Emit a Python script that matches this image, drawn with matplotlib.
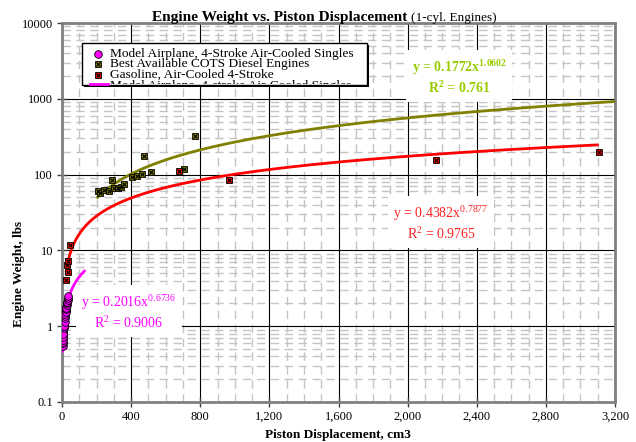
import numpy as np
import matplotlib
matplotlib.use("Agg")
import matplotlib.pyplot as plt
from matplotlib.ticker import FixedLocator, MultipleLocator, FixedFormatter, NullFormatter
from matplotlib.patches import Rectangle
from matplotlib.lines import Line2D

plt.rcParams['font.family'] = ['Liberation Serif', 'DejaVu Serif']
plt.rcParams['mathtext.fontset'] = 'custom'
plt.rcParams['mathtext.rm'] = 'Liberation Serif'
plt.rcParams['mathtext.it'] = 'Liberation Serif:italic'
plt.rcParams['mathtext.bf'] = 'Liberation Serif:bold'

# ---------------- data ----------------
model_x = [3.3, 4.0, 4.5, 5.0, 5.5, 6.0, 6.5, 7.0, 7.5, 8.0, 8.5, 9.0, 10, 10.5, 11, 12, 13, 14,
           15, 16, 17, 18, 19, 20, 21, 22, 24, 25, 26, 27, 28, 30, 32, 33, 35]
model_y = [0.55, 0.6, 0.62, 0.7, 0.65, 0.75, 0.8, 0.72, 0.85, 0.9, 0.8, 0.95, 1.0, 1.05, 1.1, 1.0,
           1.2, 1.25, 1.15, 1.3, 1.4, 1.35, 1.5, 1.45, 1.6, 1.55, 1.7, 1.8, 1.75, 1.9, 2.0, 2.1,
           2.2, 2.35, 2.5]

diesel_x = [210, 220, 245, 272, 287, 300, 322, 341, 360, 403, 432, 461, 474, 513, 706, 770]
diesel_y = [60, 58, 63, 60, 85, 66, 67, 69, 75, 94, 97, 101, 175, 107, 120, 320]

gas_x = [23, 27, 33, 37, 46, 677, 968, 2164, 3106]
gas_y = [4.1, 6.4, 7.3, 5.2, 11.8, 112, 85, 156, 200]

# power-law trendlines y = a * x^b  (coefficients as shown on chart)
model_fit = (0.2016, 0.6736, 3.3, 135)
diesel_fit = (0.1772, 1.0602, 200, 3200)
gas_fit = (0.4382, 0.7877, 23, 3106)

x_ticks = [0, 400, 800, 1200, 1600, 2000, 2400, 2800, 3200]
x_ticklabels = ['0', '400', '800', '1,200', '1,600', '2,000', '2,400', '2,800', '3,200']
y_ticks = [0.1, 1, 10, 100, 1000, 10000]
y_ticklabels = ['0.1', '1', '10', '100', '1000', '10000']

legend_labels = ['Model Airplane, 4-Stroke Air-Cooled Singles',
                 'Best Available COTS Diesel Engines',
                 'Gasoline, Air-Cooled 4-Stroke',
                 'Model Airplane, 4-stroke Air-Cooled Singles']

C_MODEL = '#ff00ff'
C_DIESEL = '#808000'
C_GAS = '#ff0000'

W, H = 636, 442
fig = plt.figure(figsize=(W / 100, H / 100), dpi=100)
fig.patch.set_facecolor('white')

L, R, T, B = 62, 615, 23, 402
ax = fig.add_axes([L / W, 1 - B / H, (R - L) / W, (B - T) / H])
ax.set_yscale('log')
ax.set_xlim(0, 3200)
ax.set_ylim(0.1, 10000)

# grid
ax.xaxis.set_major_locator(FixedLocator(x_ticks))
ax.xaxis.set_major_formatter(FixedFormatter(x_ticklabels))
ax.xaxis.set_minor_locator(MultipleLocator(100))
ax.yaxis.set_major_locator(FixedLocator(y_ticks))
ax.yaxis.set_major_formatter(FixedFormatter(y_ticklabels))
minor_y = [m * 10.0 ** e for e in range(-1, 4) for m in range(2, 10)]
ax.yaxis.set_minor_locator(FixedLocator(minor_y))
ax.yaxis.set_minor_formatter(NullFormatter())
ax.grid(which='major', color='black', lw=0.8, zorder=0)
ax.grid(which='minor', color='#c4c4c4', lw=1.0, ls=(0, (6, 4)), zorder=0)
ax.set_axisbelow(True)
ax.tick_params(which='minor', length=0)
ax.tick_params(which='major', direction='inout', length=7, width=1, color='#404040',
               labelsize=9, pad=3)
for s in ax.spines.values():
    s.set_color('#808080')
    s.set_linewidth(2)

# trendlines
for (a, b, x0, x1), c in [(model_fit, C_MODEL), (diesel_fit, C_DIESEL), (gas_fit, C_GAS)]:
    xs = np.linspace(x0, x1, 400)
    ax.plot(xs, a * xs ** b, color=c, lw=2, zorder=3, solid_capstyle='butt')

# scatter points
ax.plot(model_x, model_y, ls='none', marker='o', ms=5.5, mfc=C_MODEL, mec='black', mew=0.6, zorder=4)
for xs, ys, c in [(diesel_x, diesel_y, C_DIESEL), (gas_x, gas_y, C_GAS)]:
    ax.plot(xs, ys, ls='none', marker='s', ms=5, mfc=c, mec='black', mew=0.6, zorder=4)
    ax.plot(xs, ys, ls='none', marker='x', ms=3.5, mec='black', mew=0.8, zorder=5)

# axis labels & title
fig.text(338 / W, 1 - 435 / H, 'Piston Displacement, cm3', ha='center', va='center',
         fontsize=9.5, fontweight='bold')
fig.text(19 / W, 1 - 274 / H, 'Engine Weight, lbs', ha='center', va='center',
         rotation=90, fontsize=9.5, fontweight='bold')
fig.text(407 / W, 1 - 21 / H, 'Engine Weight vs. Piston Displacement', ha='right',
         va='baseline', fontsize=11.1, fontweight='bold')
fig.text(411 / W, 1 - 21 / H, '(1-cyl. Engines)', ha='left', va='baseline', fontsize=9.5)

# equation labels
def eq(x, y, a, b, r2, color, bold):
    if bold:
        s = 'y = %sx$^{\\mathbf{%s}}$\nR$^{\\mathbf{2}}$ = %s' % (a, b, r2)
    else:
        s = 'y = %sx$^{%s}$\nR$^{2}$ = %s' % (a, b, r2)
    fig.text(x / W, 1 - y / H, s, ha='center', va='center', multialignment='center',
             fontsize=10, color=color, fontweight='bold' if bold else 'normal',
             linespacing=1.25, zorder=10,
             bbox=dict(facecolor='white', edgecolor='none', pad=4))

eq(459, 77, '0.1772', '1.0602', '0.761', '#99cc00', True)
eq(441, 223, '0.4382', '0.7877', '0.9765', '#ff2020', False)
eq(129, 312, '0.2016', '0.6736', '0.9006', C_MODEL, False)

# legend (clipped box, as in the reference)
lx0, ly0, lx1, ly1 = 82, 43, 367, 85
shadow = Rectangle(((lx0 + 2) / W, 1 - (ly1 + 2) / H), (lx1 - lx0) / W, (ly1 - ly0) / H,
                   transform=fig.transFigure, facecolor='black', edgecolor='none', zorder=8)
fig.add_artist(shadow)
box = Rectangle((lx0 / W, 1 - ly1 / H), (lx1 - lx0) / W, (ly1 - ly0) / H,
                transform=fig.transFigure, facecolor='white', edgecolor='black', lw=1, zorder=9)
fig.add_artist(box)
clip = Rectangle((lx0 / W, 1 - (ly1 - 1) / H), (lx1 - lx0) / W, (ly1 - ly0 - 2) / H,
                 transform=fig.transFigure, facecolor='none', edgecolor='none')
ys_leg = [53.5, 64.3, 75, 86]
mx = 98
fig.add_artist(Line2D([mx / W], [1 - ys_leg[0] / H], transform=fig.transFigure, ls='none',
                      marker='o', ms=5.5, mfc=C_MODEL, mec='black', mew=0.6, zorder=11))
for yy, c in [(ys_leg[1], C_DIESEL), (ys_leg[2], C_GAS)]:
    fig.add_artist(Line2D([mx / W], [1 - yy / H], transform=fig.transFigure, ls='none',
                          marker='s', ms=5, mfc=c, mec='black', mew=0.6, zorder=11))
    fig.add_artist(Line2D([mx / W], [1 - yy / H], transform=fig.transFigure, ls='none',
                          marker='x', ms=3.5, mec='black', mew=0.8, zorder=12))
l4 = Line2D([90 / W, 108 / W], [1 - 83.5 / H, 1 - 83.5 / H], transform=fig.transFigure,
            color=C_MODEL, lw=2, zorder=11)
fig.add_artist(l4)
for i, (lab, yy) in enumerate(zip(legend_labels, ys_leg)):
    t = fig.text(110 / W, 1 - yy / H, lab, ha='left', va='center', fontsize=9.6, zorder=11)
    if i == 3:
        t.set_clip_on(True)
        t.set_clip_path(clip)

fig.savefig('out.png', dpi=100, facecolor='white')
